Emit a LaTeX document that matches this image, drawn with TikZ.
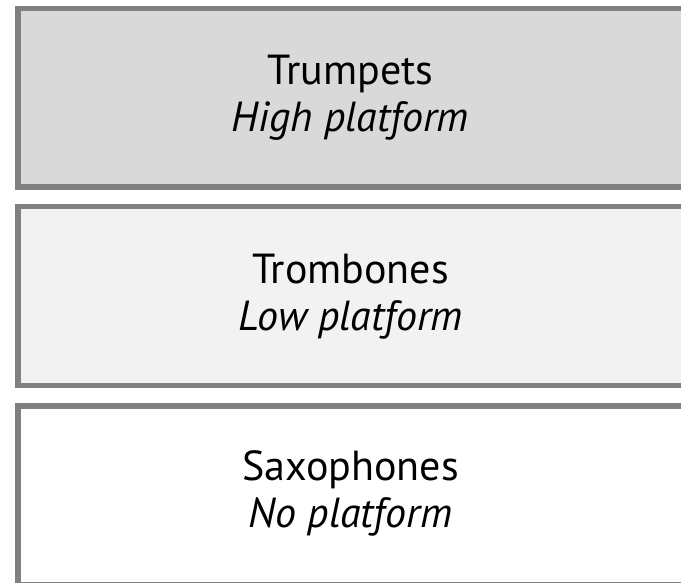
\documentclass[tikz,border=0pt]{standalone}
\usepackage{fontspec}
\setmainfont{PT Sans}
\definecolor{bordergray}{HTML}{808080}
\definecolor{fillone}{HTML}{D9D9D9}
\definecolor{filltwo}{HTML}{F2F2F2}
\tikzset{
  stage/.style={draw=bordergray, line width=5.5pt, rectangle, anchor=north west, minimum width=700pt, inner sep=0pt, outer sep=0pt},
  lineone/.style={anchor=base, font=\fontsize{42}{42}\selectfont, inner sep=0pt},
  linetwo/.style={anchor=base, font=\fontsize{42}{42}\selectfont\itshape, inner sep=0pt}
}
\begin{document}
\begin{tikzpicture}[x=1pt,y=1pt]
\useasboundingbox (0,0) rectangle (681,583);
\clip (0,0) rectangle (681,583);
\fill[white] (0,0) rectangle (681,583);
\node[stage, fill=fillone, minimum height=178.5pt] (b1) at (17.75,{583-8.75}) {};
\node[stage, fill=filltwo, minimum height=179pt] (b2) at (17.75,{583-206.75}) {};
\node[stage, fill=white, minimum height=179pt] (b3) at (17.75,{583-406}) {};
\node[lineone] (t1) at (350.5,{583-85}) {Trumpets};
\node[linetwo] (s1) at (350.5,{583-132}) {High platform};
\node[lineone] (t2) at (350.5,{583-283.5}) {Trombones};
\node[linetwo] (s2) at (350.5,{583-330.5}) {Low platform};
\node[lineone] (t3) at (350.5,{583-481}) {Saxophones};
\node[linetwo] (s3) at (350.5,{583-528}) {No platform};
\end{tikzpicture}
\end{document}
